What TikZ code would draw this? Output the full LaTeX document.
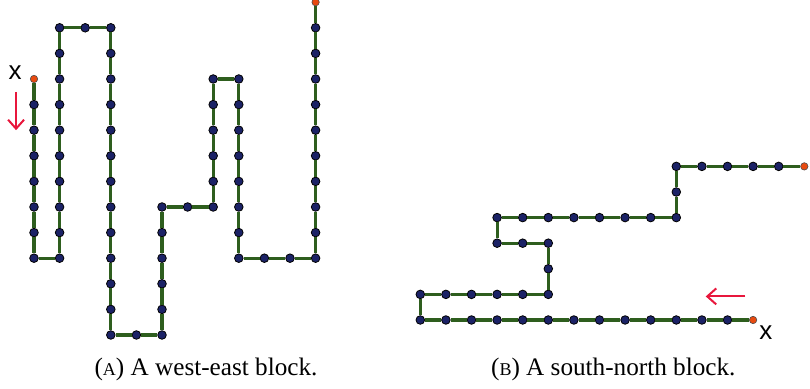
\documentclass[tikz,border=0pt]{standalone}
\usepackage{fontspec}
\setmainfont{Liberation Serif}
\newfontfamily\markfont{Liberation Sans}
\usepackage{tikz}
\usetikzlibrary{arrows.meta}

\definecolor{dotblue}{HTML}{1B2266}
\definecolor{walkgreen}{HTML}{2E5E1E}
\definecolor{endorange}{HTML}{E84A10}
\definecolor{arrowred}{HTML}{E8173C}

\begin{document}
\begin{tikzpicture}[
		x=0.5pt, y=0.5pt,
		dot/.style={circle, draw=black, line width=0.4pt, fill=dotblue, inner sep=0pt, minimum size=4.3pt},
		enddot/.style={circle, draw=black!70, line width=0.3pt, fill=endorange, inner sep=0pt, minimum size=3.7pt},
		walk/.style={draw=walkgreen, line width=1.6pt},
		dirarrow/.style={draw=arrowred, line width=1pt, -{Straight Barb[length=4.5pt,width=8pt]}},
		xlabel/.style={font=\markfont\fontsize{13}{14}\selectfont, inner sep=0pt},
		caption/.style={font=\rmfamily\fontsize{12.6}{15}\selectfont, inner sep=0pt}
	]
		\useasboundingbox (0,0) rectangle (810,389);

		% west-east block
		\begin{scope}[shift={(34,54)}, x=12.8pt, y=12.8pt]
			\node[enddot](w1) at (0,10){};
			\foreach \p [count=\i from 2] in {(0,9),(0,8),(0,7),(0,6),(0,5),(0,4),(0,3),
				(1,3),(1,4),(1,5),(1,6),(1,7),(1,8),(1,9),(1,10),(1,11),(1,12),(2,12),
				(3,12),(3,11),(3,10),(3,9),(3,8),(3,7),(3,6),(3,5),(3,4),(3,3),(3,2),(3,1),(3,0),(4,0),
				(5,0),(5,1),(5,2),(5,3),(5,4),(5,5),(6,5),
				(7,5),(7,6),(7,7),(7,8),(7,9),(7,10),
				(8,10),(8,9),(8,8),(8,7),(8,6),(8,5),(8,4),(8,3),(9,3),(10,3),
				(11,3),(11,4),(11,5),(11,6),(11,7),(11,8),(11,9),(11,10),(11,11),(11,12)}
				\node[dot](w\i) at \p {};
			\node[enddot](w67) at (11,13){};
			\foreach \i [evaluate=\i as \j using int(\i+1)] in {1,...,66}
				\draw[walk](w\i) -- (w\j);

			\node[xlabel](wx) at (-0.74,10.23){x};
			\coordinate(wa) at (-0.7,9.5);
			\coordinate(wb) at (-0.7,8);
			\draw[dirarrow](wa) -- (wb);
			\node[caption](wcap) at (6.72,-1.34){({\fontsize{9}{9}\selectfont A}) A west-east block.};
		\end{scope}

		% south-north block
		\begin{scope}[shift={(420.3,69)}, x=12.8pt, y=12.8pt]
			\node[enddot](s1) at (13,0){};
			\foreach \p [count=\i from 2] in {(12,0),(11,0),(10,0),(9,0),(8,0),(7,0),(6,0),(5,0),(4,0),(3,0),(2,0),(1,0),(0,0),
				(0,1),(1,1),(2,1),(3,1),(4,1),(5,1),(5,2),(5,3),(4,3),(3,3),
				(3,4),(4,4),(5,4),(6,4),(7,4),(8,4),(9,4),(10,4),(10,5),
				(10,6),(11,6),(12,6),(13,6),(14,6)}
				\node[dot](s\i) at \p {};
			\node[enddot](s39) at (15,6){};
			\foreach \i [evaluate=\i as \j using int(\i+1)] in {1,...,38}
				\draw[walk](s\i) -- (s\j);

			\node[xlabel](sx) at (13.5,-0.5){x};
			\coordinate(sa) at (12.7,0.92);
			\coordinate(sb) at (11.15,0.92);
			\draw[dirarrow](sa) -- (sb);
			\node[caption](scap) at (7.54,-1.92){({\fontsize{9}{9}\selectfont B}) A south-north block.};
		\end{scope}
	\end{tikzpicture}
\end{document}
